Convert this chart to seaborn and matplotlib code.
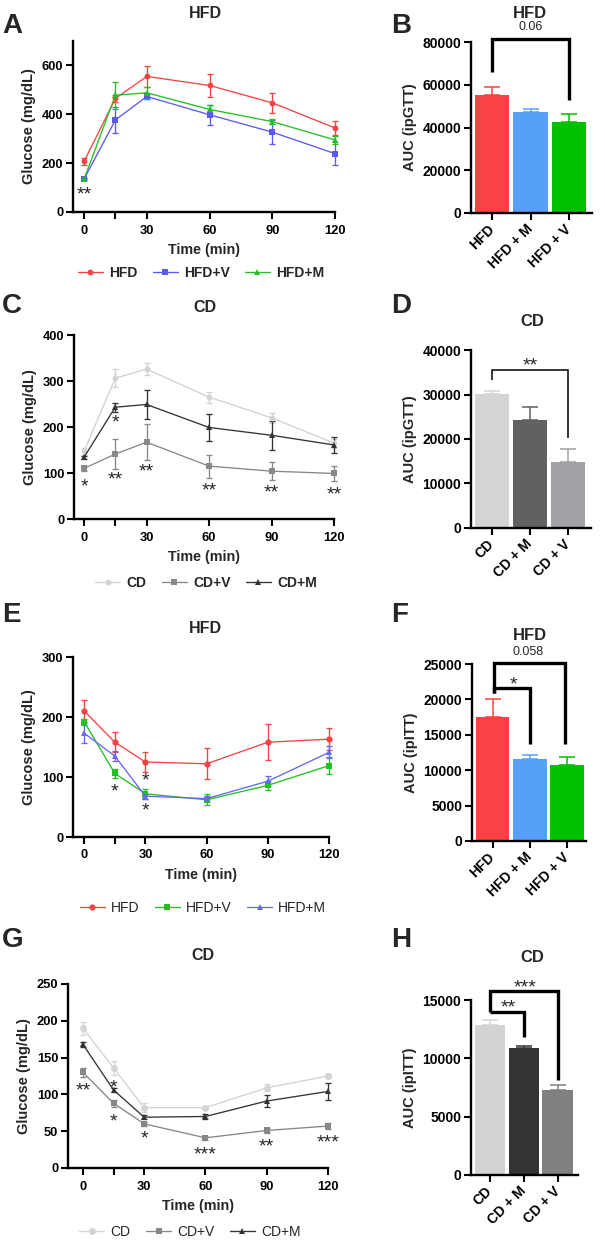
import numpy as np
import pandas as pd
import matplotlib
matplotlib.use("Agg")
import matplotlib.pyplot as plt
import seaborn as sns
from matplotlib.lines import Line2D

# ---------------- data ----------------
times = [0, 15, 30, 60, 90, 120]
time_ticklabels = ["0", "", "30", "60", "90", "120"]

# A: ipGTT, HFD
a_labels = ["HFD", "HFD+V", "HFD+M"]
a_hfd = [207, 465, 555, 518, 447, 344]
a_hfd_err = [13, 15, 44, 46, 40, 30]
a_hfdv = [135, 377, 473, 398, 327, 239]
a_hfdv_err = [5, 53, 10, 40, 48, 48]
a_hfdm = [135, 478, 488, 420, 370, 295]
a_hfdm_err = [5, 55, 24, 16, 10, 18]
a_stars = [(0, 97, "**")]

# B: AUC ipGTT, HFD
b_cats = ["HFD", "HFD + M", "HFD + V"]
b_vals = [55000, 47200, 42600]
b_err = [3900, 1400, 3900]
b_p = "0.06"

# C: ipGTT, CD
c_labels = ["CD", "CD+V", "CD+M"]
c_cd = [147, 306, 326, 265, 220, 165]
c_cd_err = [8, 20, 14, 12, 11, 10]
c_cdv = [110, 141, 167, 115, 104, 99]
c_cdv_err = [5, 32, 39, 25, 20, 16]
c_cdm = [134, 243, 249, 199, 182, 161]
c_cdm_err = [4, 10, 32, 30, 31, 18]
c_stars = [(0, 84, "*"), (15, 223, "*"), (15, 99, "**"), (30, 117, "**"),
           (60, 76, "**"), (90, 72, "**"), (120, 67, "**")]

# D: AUC ipGTT, CD
d_cats = ["CD", "CD + M", "CD + V"]
d_vals = [30100, 24200, 14800]
d_err = [600, 2900, 2900]

# E: ipITT, HFD
e_labels = ["HFD", "HFD+V", "HFD+M"]
e_hfd = [210, 158, 125, 122, 158, 163]
e_hfd_err = [18, 17, 16, 26, 30, 18]
e_hfdv = [192, 106, 72, 62, 86, 119]
e_hfdv_err = [5, 8, 8, 9, 8, 14]
e_hfdm = [173, 135, 68, 64, 93, 141]
e_hfdm_err = [17, 9, 4, 4, 8, 10]
e_stars = [(15, 86, "*"), (30, 104, "*"), (30, 54, "*")]

# F: AUC ipITT, HFD
f_cats = ["HFD", "HFD + M", "HFD + V"]
f_vals = [17500, 11600, 10800]
f_err = [2500, 480, 1090]
f_p = "0.058"

# G: ipITT, CD
g_labels = ["CD", "CD+V", "CD+M"]
g_cd = [190, 136, 82, 82, 109, 125]
g_cd_err = [9, 10, 6, 2, 5, 3]
g_cdv = [130, 88, 60, 41, 51, 57]
g_cdv_err = [6, 5, 3, 3, 3, 4]
g_cdm = [168, 106, 69, 70, 91, 104]
g_cdm_err = [3, 3, 3, 3, 8, 11]
g_stars = [(0, 113, "**"), (15, 118, "*"), (15, 72, "*"), (30, 48, "*"),
           (60, 27, "***"), (90, 38, "**"), (120, 43, "***")]

# H: AUC ipITT, CD
h_cats = ["CD", "CD + M", "CD + V"]
h_vals = [12900, 10850, 7300]
h_err = [400, 230, 450]

# ---------------- style ----------------
sns.set_style("ticks")
plt.rcParams["font.family"] = ["Liberation Sans", "DejaVu Sans"]
plt.rcParams["font.weight"] = "bold"
plt.rcParams["axes.labelweight"] = "bold"

RED = "#f24444"
BLUE_L = "#5a5af2"
GREEN_L = "#22c022"
BAR_RED = "#fa4245"
BAR_BLUE = "#56a0fa"
BAR_GREEN = "#00c000"
STAR_SIZE = 14
STAR_OFF = -8.0

W, H = 605, 1249
fig = plt.figure(figsize=(W / 100, H / 100), dpi=100)


def box(x0, x1, ytop, ybot):
    return fig.add_axes([x0 / W, 1 - ybot / H, (x1 - x0) / W, (ybot - ytop) / H])


def style(ax, size):
    for s in ["top", "right"]:
        ax.spines[s].set_visible(False)
    for s in ["left", "bottom"]:
        ax.spines[s].set_linewidth(1.7)
        ax.spines[s].set_color("black")
    ax.tick_params(width=1.5, length=5, labelsize=size, color="black", pad=2,
                   labelcolor="black")


def fig_text(x, y, s, **kw):
    fig.text(x / W, 1 - y / H, s, **kw)


def star(ax, x, y, s):
    ax.annotate(s, (x, y), xytext=(0, STAR_OFF), textcoords="offset points",
                ha="center", va="baseline", fontsize=STAR_SIZE, fontweight="normal",
                annotation_clip=False)


def line_panel(bx, xlim, ylim, yticks, series, star_items, leg_xy, leg_weight, ms):
    ax = box(*bx)
    handles = []
    for label, vals, errs, color, marker in series:
        ax.errorbar(times, vals, yerr=errs, fmt="none", ecolor=color,
                    elinewidth=0.95, capsize=2.3, capthick=0.95, clip_on=False, zorder=2)
        sns.lineplot(x=times, y=vals, ax=ax, color=color, marker=marker,
                     markersize=ms, markeredgewidth=0, linewidth=0.95,
                     errorbar=None, legend=False, zorder=3)
        handles.append(Line2D([0], [0], color=color, marker=marker, markersize=ms,
                              markeredgewidth=0, lw=0.95, label=label))
    for l in ax.lines:
        l.set_clip_on(False)
    ax.set_xlim(*xlim)
    ax.set_ylim(*ylim)
    ax.set_xticks(times)
    ax.set_xticklabels(time_ticklabels)
    ax.set_yticks(yticks)
    style(ax, 9.3)
    ax.tick_params(axis="x", pad=4)
    ax.set_xlabel("Time (min)", fontsize=10.3, labelpad=5)
    ax.set_ylabel("Glucose (mg/dL)", fontsize=10.5, labelpad=4)
    for x, y, s in star_items:
        star(ax, x, y, s)
    ax.legend(handles=handles, loc="center",
              bbox_to_anchor=(leg_xy[0] / W, 1 - leg_xy[1] / H),
              bbox_transform=fig.transFigure, ncol=3, frameon=False,
              prop={"size": 10, "weight": leg_weight}, handlelength=1.8,
              handletextpad=0.45, columnspacing=1.1, borderpad=0)
    return ax


def bar_panel(bx, xlim, cats, vals, errs, colors, ylim, yticks, ylabel):
    ax = box(*bx)
    df = pd.DataFrame({"g": cats, "v": vals})
    sns.barplot(data=df, x="g", y="v", hue="g", palette=colors, ax=ax,
                width=0.9, errorbar=None, legend=False, saturation=1,
                linewidth=0, zorder=2)
    for i, (v, e, c) in enumerate(zip(vals, errs, colors)):
        ax.errorbar([i], [v], yerr=[[0], [e]], fmt="none", ecolor=c,
                    elinewidth=1.1, capsize=6, capthick=1.1, zorder=1)
    ax.set_xlim(*xlim)
    ax.set_ylim(*ylim)
    ax.set_yticks(yticks)
    ax.set_xticks(range(len(cats)))
    ax.set_xticklabels(cats, rotation=45, ha="right", va="center",
                       rotation_mode="anchor")
    ax.set_xlabel("")
    ax.set_ylabel(ylabel, fontsize=10.5, labelpad=4)
    style(ax, 10)
    ax.tick_params(axis="x", pad=5)
    return ax


def bracket(ax, x0, x1, ytop, yl, yr, lw):
    ax.plot([x0, x0, x1, x1], [yl, ytop, ytop, yr], color="black", lw=lw,
            clip_on=False, solid_joinstyle="miter", solid_capstyle="butt", zorder=5)


# ---------------- panel A ----------------
line_panel((73, 335, 41, 212), (-5.3, 120), (0, 700), [0, 200, 400, 600],
           [(a_labels[0], a_hfd, a_hfd_err, RED, "o"),
            (a_labels[1], a_hfdv, a_hfdv_err, BLUE_L, "s"),
            (a_labels[2], a_hfdm, a_hfdm_err, GREEN_L, "^")],
           a_stars, (201, 273), "bold", 4.2)
fig_text(205, 14, "HFD", ha="center", va="center", fontsize=11.5, fontweight="bold")

# ---------------- panel B ----------------
axb = bar_panel((471, 592, 42, 213), (-0.55, 2.6), b_cats, b_vals, b_err,
                [BAR_RED, BAR_BLUE, BAR_GREEN], (0, 80000),
                [0, 20000, 40000, 60000, 80000], "AUC (ipGTT)")
bracket(axb, 0, 2, 81400, 65800, 52700, 2.4)
fig_text(530, 14, "HFD", ha="center", va="center", fontsize=12, fontweight="bold")
fig_text(531, 27, b_p, ha="center", va="center", fontsize=9, fontweight="normal")

# ---------------- panel C ----------------
line_panel((74, 334, 335, 519), (-4.8, 120), (0, 400), [0, 100, 200, 300, 400],
           [(c_labels[0], c_cd, c_cd_err, "#d2d2d2", "o"),
            (c_labels[1], c_cdv, c_cdv_err, "#888888", "s"),
            (c_labels[2], c_cdm, c_cdm_err, "#333333", "^")],
           c_stars, (206, 583), "bold", 4.2)
fig_text(205, 307, "CD", ha="center", va="center", fontsize=11.5, fontweight="bold")

# ---------------- panel D ----------------
axd = bar_panel((471, 591, 350, 528), (-0.55, 2.6), d_cats, d_vals, d_err,
                ["#d4d4d4", "#616161", "#a2a2a6"], (0, 40000),
                [0, 10000, 20000, 30000, 40000], "AUC (ipGTT)")
bracket(axd, 0, 2, 35500, 33300, 20200, 1.1)
star(axd, 1, 37900, "**")
fig_text(532, 321, "CD", ha="center", va="center", fontsize=12, fontweight="bold")

# ---------------- panel E ----------------
line_panel((73, 329, 657, 837), (-5.5, 120), (0, 300), [0, 100, 200, 300],
           [(e_labels[0], e_hfd, e_hfd_err, RED, "o"),
            (e_labels[1], e_hfdv, e_hfdv_err, GREEN_L, "s"),
            (e_labels[2], e_hfdm, e_hfdm_err, "#6868f2", "^")],
           e_stars, (203, 908), "normal", 4.5)
fig_text(205, 628, "HFD", ha="center", va="center", fontsize=11.5, fontweight="bold")

# ---------------- panel F ----------------
axf = bar_panel((472, 586, 664, 841), (-0.55, 2.5), f_cats, f_vals, f_err,
                [BAR_RED, BAR_BLUE, BAR_GREEN], (0, 25000),
                [0, 5000, 10000, 15000, 20000, 25000], "AUC (ipITT)")
bracket(axf, 0.05, 1.95, 25190, 20940, 13770, 2.4)
bracket(axf, 0.05, 1.0, 21560, 20940, 13770, 2.4)
star(axf, 0.55, 22970, "*")
fig_text(530, 635, "HFD", ha="center", va="center", fontsize=12, fontweight="bold")
fig_text(528, 652, f_p, ha="center", va="center", fontsize=9, fontweight="normal")

# ---------------- panel G ----------------
line_panel((68, 328, 984, 1168), (-7.3, 120), (0, 250), [0, 50, 100, 150, 200, 250],
           [(g_labels[0], g_cd, g_cd_err, "#d4d4d4", "o"),
            (g_labels[1], g_cdv, g_cdv_err, "#878787", "s"),
            (g_labels[2], g_cdm, g_cdm_err, "#333333", "^")],
           g_stars, (190, 1232), "normal", 5)
fig_text(203, 955, "CD", ha="center", va="center", fontsize=11.5, fontweight="bold")

# ---------------- panel H ----------------
axh = bar_panel((471, 578, 1000, 1175), (-0.56, 2.6), h_cats, h_vals, h_err,
                ["#d3d3d3", "#333333", "#808080"], (0, 15000),
                [0, 5000, 10000, 15000], "AUC (ipITT)")
bracket(axh, 0, 2, 15770, 14000, 8140, 2.4)
bracket(axh, 0, 1, 14000, 14000, 11860, 2.4)
star(axh, 0.53, 14860, "**")
star(axh, 1.03, 16570, "***")
fig_text(532, 958, "CD", ha="center", va="center", fontsize=12, fontweight="bold")

# ---------------- panel letters ----------------
for lab, x, y in [("A", 2, 33), ("B", 391, 33), ("C", 2, 313), ("D", 391, 313),
                  ("E", 2, 622), ("F", 391, 622), ("G", 2, 947), ("H", 391, 947)]:
    fig_text(x, y, lab, ha="left", va="baseline", fontsize=20, fontweight="bold")

fig.savefig("out.png", dpi=100)
